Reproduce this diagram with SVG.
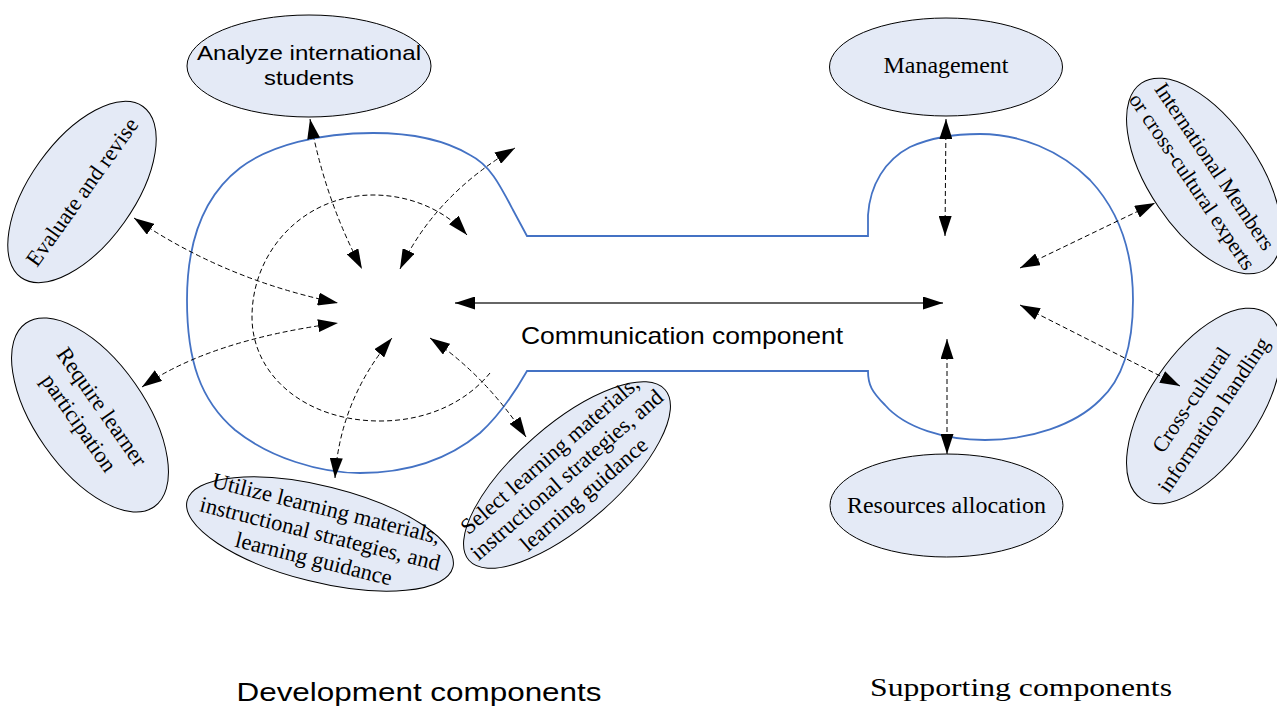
<svg xmlns="http://www.w3.org/2000/svg" width="1277" height="711" viewBox="0 0 1277 711">
<defs>
<style>
.node{fill:#E4EAF6;stroke:#000;stroke-width:1}
.tn{font-family:"Liberation Serif","Times New Roman",serif;font-size:22.5px;fill:#000;text-anchor:middle}
.ts{font-family:"Liberation Sans",Arial,sans-serif;fill:#000;text-anchor:middle}
.dash{fill:none;stroke:#000;stroke-width:1;stroke-dasharray:5,3;marker-start:url(#ah);marker-end:url(#ah)}
.solid{fill:none;stroke:#333;stroke-width:1.3;marker-start:url(#ah);marker-end:url(#ah)}
</style>
<marker id="ah" viewBox="0 0 20 13" refX="20" refY="6.5" markerWidth="20" markerHeight="13" markerUnits="userSpaceOnUse" orient="auto-start-reverse"><path d="M0,0 L20,6.5 L0,13 Z" fill="#000"/></marker>
</defs>
<rect width="1277" height="711" fill="#fff"/>

<g id="outline">
<path d="M527,236 L868,236 L868,215 C870,185 885,160 910,147 C930,138 955,134 980,134 C1020,134 1060,150 1090,180 C1118,210 1133,250 1133,300 C1133,345 1122,380 1100,400 C1075,425 1030,440 985,440 C945,440 905,428 885,405 C872,392 868,385 868,371 L527,371 C515,392 500,415 480,433 C450,458 410,473 360,473 C320,473 270,458 235,430 C200,400 187,360 187,300 C187,240 205,195 240,168 C270,145 320,133 373,133 C410,133 445,140 470,155 C490,165 500,185 513,210 Z" fill="none" stroke="#4472C4" stroke-width="1.8"/>
</g>

<g id="n-analyze">
<ellipse class="node" cx="309" cy="66" rx="122" ry="51"/>
<text class="ts" x="309" y="60" font-size="21" textLength="224" lengthAdjust="spacingAndGlyphs">Analyze international</text>
<text class="ts" x="309" y="85" font-size="21" textLength="90" lengthAdjust="spacingAndGlyphs">students</text>
</g>

<g id="n-evaluate" transform="rotate(-54.5 82 192)">
<ellipse class="node" cx="82" cy="192" rx="105" ry="52"/>
<text class="tn" x="82" y="199.5">Evaluate and revise</text>
</g>

<g id="n-require" transform="rotate(55 90 415)">
<ellipse class="node" cx="90" cy="415" rx="112" ry="55"/>
<text class="tn" x="90" y="408">Require learner</text>
<text class="tn" x="90" y="436">participation</text>
</g>

<g id="n-utilize" transform="rotate(14 320 534)">
<ellipse class="node" cx="320" cy="534" rx="137" ry="48"/>
<text class="tn" x="320" y="515">Utilize learning materials,</text>
<text class="tn" x="320" y="541">instructional strategies, and</text>
<text class="tn" x="320" y="567">learning guidance</text>
</g>

<g id="n-select" transform="rotate(-41 567 475)">
<ellipse class="node" cx="567" cy="475" rx="130" ry="50"/>
<text class="tn" x="567" y="456">Select learning materials,</text>
<text class="tn" x="567" y="482">instructional strategies, and</text>
<text class="tn" x="567" y="508">learning guidance</text>
</g>

<g id="n-management">
<ellipse class="node" cx="946" cy="67" rx="116.5" ry="49"/>
<text class="tn" x="946" y="73" font-size="21" textLength="125" lengthAdjust="spacingAndGlyphs">Management</text>
</g>

<g id="n-resources">
<ellipse class="node" cx="946.5" cy="505.5" rx="116.5" ry="51.5"/>
<text class="tn" x="946.5" y="513" font-size="21" textLength="199" lengthAdjust="spacingAndGlyphs">Resources allocation</text>
</g>

<g id="n-international" transform="rotate(56 1204 176)">
<ellipse class="node" cx="1204" cy="176" rx="112" ry="55"/>
<text class="tn" x="1202" y="169" style="font-size:21.5px">International Members</text>
<text class="tn" x="1202" y="196" style="font-size:21.5px">or cross-cultural experts</text>
</g>

<g id="n-crosscultural" transform="rotate(-56 1204 406)">
<ellipse class="node" cx="1204" cy="406" rx="112" ry="55"/>
<text class="tn" x="1202" y="399" style="font-size:21.5px">Cross-cultural</text>
<text class="tn" x="1202" y="426" style="font-size:21.5px">information handling</text>
</g>

<g id="connectors">
<path d="M490,373 C468,400 430,421 380,421 C305,421 252,375 252,317 C252,250 305,195 373,195 C410,195 445,210 467,235" fill="none" stroke="#000" stroke-width="1" stroke-dasharray="5,3" marker-end="url(#ah)"/>
<path class="dash" d="M310,119 Q325,200 362,269"/>
<path class="dash" d="M400,269 Q435,195 515,148"/>
<path class="dash" d="M134,218 Q225,280 338,303"/>
<path class="dash" d="M142,387 Q210,340 338,323"/>
<path class="dash" d="M335,478 Q340,400 392,338"/>
<path class="dash" d="M430,338 Q485,375 526,437"/>
<path class="solid" d="M455,303 L943,303"/>
<path class="dash" d="M946,119 L945,236"/>
<path class="dash" d="M947,339 L947,454"/>
<path class="dash" d="M1020,268 L1155,203"/>
<path class="dash" d="M1020,305 L1180,386"/>
</g>

<g id="labels">
<text class="ts" x="682" y="344" font-size="24" textLength="322" lengthAdjust="spacingAndGlyphs">Communication component</text>
<text class="ts" x="419" y="701" font-size="25" textLength="365" lengthAdjust="spacingAndGlyphs">Development components</text>
<text class="tn" x="1021" y="696" style="font-size:26px" textLength="302" lengthAdjust="spacingAndGlyphs">Supporting components</text>
</g>
</svg>
